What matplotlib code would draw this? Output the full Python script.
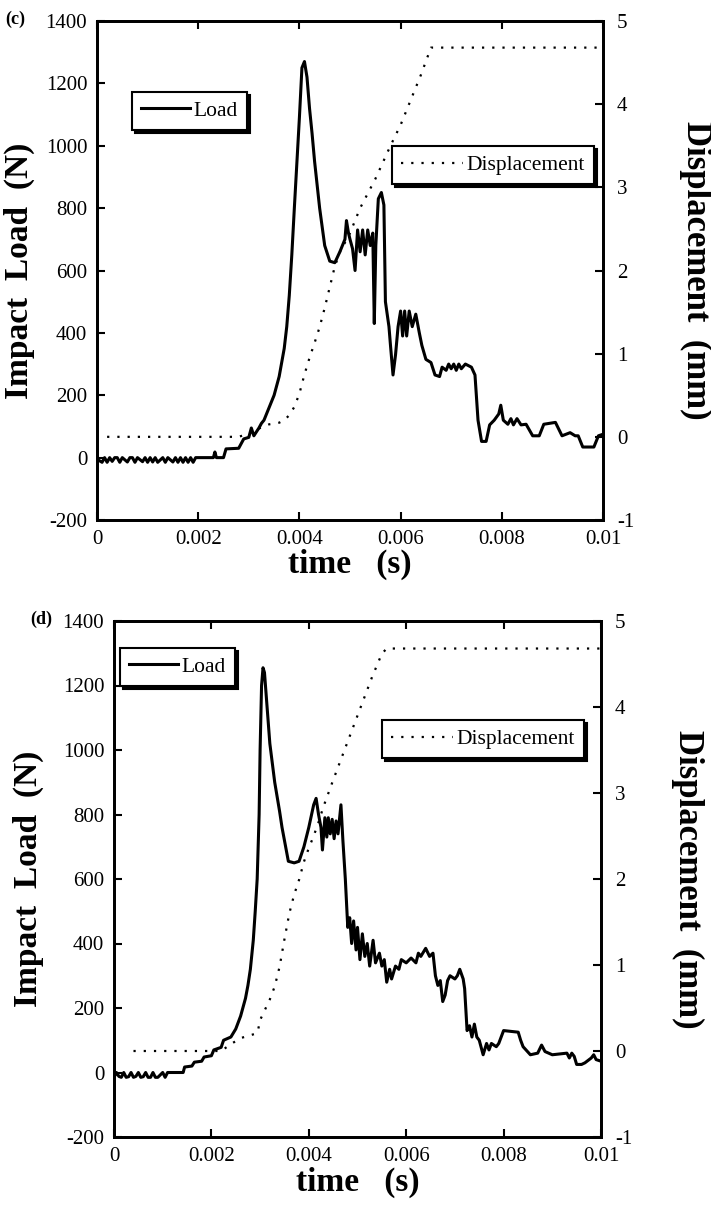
import matplotlib
matplotlib.use("Agg")
import matplotlib.pyplot as plt

plt.rcParams['font.family'] = ['Liberation Serif', 'DejaVu Serif']
plt.rcParams['axes.unicode_minus'] = False

# ---- panel (c) ----
t_load_c = [0.0, 0.0001, 0.00015, 0.0002, 0.00025, 0.0003, 0.00035, 0.0004, 0.00045, 0.0005,
            0.0006, 0.00065, 0.0007, 0.00075, 0.0008, 0.0009, 0.00095, 0.001, 0.00105, 0.0011,
            0.00115, 0.0012, 0.0013, 0.00135, 0.0014, 0.0015, 0.00155, 0.0016, 0.00165, 0.0017,
            0.00175, 0.0018, 0.00185, 0.0019, 0.00195, 0.002, 0.0023, 0.00233, 0.00236, 0.0025,
            0.00255, 0.0028, 0.0029, 0.003, 0.00305, 0.0031, 0.0032, 0.00325, 0.0033, 0.0034,
            0.0035, 0.0036, 0.0037, 0.00375, 0.0038, 0.00385, 0.0039, 0.004, 0.00405, 0.0041,
            0.00415, 0.0042, 0.00425, 0.0043, 0.0044, 0.0045, 0.0046, 0.0047, 0.0048, 0.0049,
            0.00493, 0.00497, 0.005, 0.00505, 0.0051, 0.00515, 0.0052, 0.00525, 0.0053, 0.00535,
            0.0054, 0.00545, 0.00548, 0.00551, 0.00556, 0.00562, 0.00567, 0.0057, 0.00577, 0.0058,
            0.00585, 0.0059, 0.00595, 0.006, 0.00604, 0.00608, 0.00612, 0.00617, 0.00623, 0.0063,
            0.00637, 0.00642, 0.0065, 0.0066, 0.00668, 0.00677, 0.00682, 0.0069, 0.00695, 0.007,
            0.00705, 0.0071, 0.00715, 0.0072, 0.00728, 0.0074, 0.00747, 0.00753, 0.0076, 0.00769,
            0.00776, 0.00785, 0.00794, 0.00798, 0.00803, 0.00812, 0.00818, 0.00823, 0.0083, 0.00838,
            0.00848, 0.00861, 0.00874, 0.00883, 0.00895, 0.00906, 0.00919, 0.00935, 0.00945, 0.00951,
            0.0096, 0.00982, 0.00991, 0.01]
load_c = [-5, -15, 0, -15, 0, -12, 0, 0, -15, 0,
          -14, 0, 0, -15, 0, -13, 0, -15, 0, -14,
          0, -15, 0, -15, 0, -14, 0, -15, 0, -15,
          0, -15, 0, -15, 0, 0, 0, 18, 0, 0,
          28, 30, 60, 65, 95, 70, 95, 110, 120, 160,
          200, 260, 350, 420, 520, 650, 800, 1090, 1250, 1270,
          1220, 1120, 1040, 950, 800, 680, 630, 625, 660, 700,
          760, 720, 700, 670, 600, 730, 660, 730, 650, 730,
          680, 720, 430, 680, 830, 850, 810, 500, 420, 360,
          265, 330, 420, 470, 390, 470, 390, 470, 420, 460,
          400, 360, 315, 305, 265, 260, 290, 280, 300, 285,
          300, 280, 300, 285, 300, 290, 265, 120, 52, 52,
          105, 120, 140, 168, 120, 107, 125, 105, 125, 105,
          107, 70, 70, 107, 110, 113, 70, 80, 70, 70,
          34, 34, 70, 75]

t_disp_c = [0.0002, 0.0028, 0.003, 0.0032, 0.0034, 0.0036, 0.0037, 0.0038, 0.0039, 0.004,
            0.0041, 0.0042, 0.0043, 0.0044, 0.0045, 0.0046, 0.0047, 0.0048, 0.005, 0.0052,
            0.0055, 0.0058, 0.006, 0.0062, 0.0064, 0.0066, 0.01]
disp_c = [0, 0, 0.04, 0.10, 0.15, 0.17, 0.20, 0.26, 0.36, 0.52,
          0.75, 0.95, 1.13, 1.32, 1.55, 1.80, 2.05, 2.22, 2.45, 2.75,
          3.1, 3.5, 3.75, 4.05, 4.35, 4.68, 4.68]

# ---- panel (d) ----
t_load_d = [0.0, 0.00005, 0.0001, 0.00015, 0.0002, 0.00025, 0.0003, 0.00035, 0.0004, 0.00045,
            0.0005, 0.00055, 0.0006, 0.00065, 0.0007, 0.00075, 0.0008, 0.00085, 0.0009, 0.001,
            0.00105, 0.0011, 0.0012, 0.00142, 0.00145, 0.0016, 0.00165, 0.0018, 0.00185, 0.002,
            0.00205, 0.0022, 0.00225, 0.0024, 0.0025, 0.0026, 0.0027, 0.00275, 0.0028, 0.00286,
            0.0029, 0.00294, 0.00298, 0.003, 0.00303, 0.00306, 0.00309, 0.00315, 0.0032, 0.0033,
            0.0034, 0.00345, 0.0035, 0.00358, 0.0037, 0.0038, 0.0039, 0.004, 0.0041, 0.00415,
            0.0042, 0.00425, 0.00428, 0.00433, 0.00437, 0.0044, 0.00444, 0.00448, 0.00452, 0.00456,
            0.0046, 0.00466, 0.0047, 0.00475, 0.0048, 0.00484, 0.00488, 0.00492, 0.00497, 0.005,
            0.00505, 0.0051, 0.00515, 0.0052, 0.00525, 0.00532, 0.00537, 0.00545, 0.0055, 0.00555,
            0.0056, 0.00566, 0.0057, 0.00578, 0.00585, 0.0059, 0.006, 0.0061, 0.0062, 0.00625,
            0.0063, 0.0064, 0.00648, 0.00655, 0.0066, 0.00665, 0.0067, 0.00675, 0.0068, 0.00685,
            0.0069, 0.007, 0.00705, 0.0071, 0.00717, 0.0072, 0.00725, 0.0073, 0.00735, 0.0074,
            0.00745, 0.0075, 0.00758, 0.00765, 0.0077, 0.00775, 0.00785, 0.0079, 0.008, 0.0083,
            0.00835, 0.0084, 0.00855, 0.0087, 0.00878, 0.00885, 0.009, 0.0093, 0.00935, 0.0094,
            0.00945, 0.0095, 0.0096, 0.00967, 0.0098, 0.00985, 0.0099, 0.01]
load_d = [-15, 0, -12, -15, 0, -15, -13, 0, -15, -12,
          0, -15, -13, 0, -15, -15, 0, -15, -15, 0,
          -15, 0, 0, 0, 17, 20, 32, 35, 48, 52,
          70, 78, 100, 110, 135, 175, 230, 270, 320, 410,
          500, 600, 800, 1000, 1200, 1255, 1240, 1120, 1020, 900,
          810, 760, 720, 655, 650, 655, 700, 760, 830, 850,
          800, 760, 690, 790, 730, 790, 740, 785, 725, 780,
          740, 830, 720, 600, 450, 480, 400, 470, 380, 450,
          350, 430, 360, 400, 330, 410, 340, 370, 330, 350,
          280, 320, 290, 330, 320, 350, 340, 355, 340, 370,
          360, 385, 360, 370, 300, 270, 285, 220, 240, 285,
          300, 290, 300, 320, 290, 260, 130, 145, 110, 150,
          110, 100, 55, 90, 70, 90, 80, 90, 130, 125,
          100, 80, 55, 60, 85, 65, 55, 60, 45, 60,
          50, 25, 25, 30, 45, 55, 40, 35]

t_disp_d = [0.0004, 0.0022, 0.0024, 0.0026, 0.0029, 0.00295, 0.003, 0.0031, 0.0032, 0.0033,
            0.0034, 0.0035, 0.0036, 0.0037, 0.0038, 0.0039, 0.004, 0.0041, 0.0042, 0.0043,
            0.0045, 0.0047, 0.0049, 0.0051, 0.0053, 0.0055, 0.0056, 0.01]
disp_d = [0, 0, 0.08, 0.15, 0.2, 0.22, 0.36, 0.48, 0.6, 0.75,
          0.98, 1.3, 1.6, 1.82, 1.99, 2.2, 2.36, 2.5, 2.66, 2.84,
          3.15, 3.45, 3.75, 4.05, 4.35, 4.62, 4.68, 4.68]

x_ticks = [0, 0.002, 0.004, 0.006, 0.008, 0.01]
x_labels = ['0', '0.002', '0.004', '0.006', '0.008', '0.01']
load_ticks = [-200, 0, 200, 400, 600, 800, 1000, 1200, 1400]
disp_ticks = [-1, 0, 1, 2, 3, 4, 5]

W, H = 711, 1213
fig = plt.figure(figsize=(W / 100, H / 100), dpi=100)

panels = [
    # tag, t_load, load, t_disp, disp, axes box (px), tag x, legend anchors, label offsets
    ('(c)', t_load_c, load_c, t_disp_c, disp_c, (97, 21, 603, 520), 5,
     (0.069, 0.858), (0.982, 0.749), -0.123, 1.182, -0.058),
    ('(d)', t_load_d, load_d, t_disp_d, disp_d, (114, 621, 601, 1137), 30,
     (0.012, 0.948), (0.965, 0.808), -0.144, 1.177, -0.058),
]

shadow = {'facecolor': 'black', 'edgecolor': 'black', 'alpha': 1}

for tag, tl, ld, td, dd, box, tagx, leg1, leg2, ylx, y2x, xly in panels:
    x0, y0, x1, y1 = box
    ax = fig.add_axes([x0 / W, 1 - y1 / H, (x1 - x0) / W, (y1 - y0) / H])
    ax2 = ax.twinx()

    l1, = ax.plot(tl, ld, color='black', lw=2.2, label='Load')
    l2, = ax2.plot(td, dd, color='black', lw=1.6, linestyle=(0, (1, 3.6)),
                   label='Displacement')

    ax.set_xlim(0, 0.01)
    ax.set_ylim(-200, 1400)
    ax2.set_ylim(-1, 5)
    ax.set_xticks(x_ticks)
    ax.set_xticklabels(x_labels)
    ax.set_yticks(load_ticks)
    ax2.set_yticks(disp_ticks)

    for a in (ax, ax2):
        for s in a.spines.values():
            s.set_linewidth(2.0)
    ax.tick_params(direction='in', length=6, width=1.5, labelsize=15,
                   top=True, right=False, pad=7)
    ax2.tick_params(direction='in', length=6, width=1.5, labelsize=15, pad=10)

    ax.set_ylabel('Impact  Load  (N)', fontsize=24, fontweight='bold')
    ax.yaxis.set_label_coords(ylx, 0.5)
    ax2.set_ylabel('Displacement  (mm)', fontsize=25, fontweight='bold',
                   rotation=-90, va='center')
    ax2.yaxis.set_label_coords(y2x, 0.5)
    ax.set_xlabel('time   (s)', fontsize=24, fontweight='bold')
    ax.xaxis.set_label_coords(0.5, xly)

    lg1 = ax.legend(handles=[l1], loc='upper left', bbox_to_anchor=leg1,
                    borderaxespad=0, fancybox=False, shadow=shadow,
                    edgecolor='black', framealpha=1, fontsize=15.5,
                    handlelength=2.3, handletextpad=0.15, borderpad=0.42)
    lg1.get_frame().set_linewidth(1.5)
    lg2 = ax2.legend(handles=[l2], loc='upper right', bbox_to_anchor=leg2,
                     borderaxespad=0, fancybox=False, shadow=shadow,
                     edgecolor='black', framealpha=1, fontsize=15.5,
                     handlelength=2.9, handletextpad=0.15, borderpad=0.42)
    lg2.get_frame().set_linewidth(1.5)

    fig.text(tagx / W, 1 - (y0 - 2) / H, tag, fontsize=13, fontweight='bold',
             ha='left', va='center')

fig.savefig('out.png', dpi=100)
